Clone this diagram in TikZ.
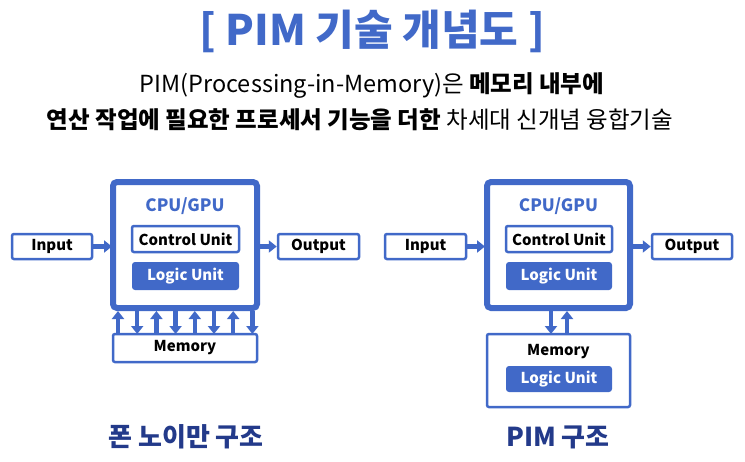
\documentclass[tikz,border=0pt]{standalone}
\usepackage{fontspec}
\setmainfont{Noto Sans CJK KR}
\usetikzlibrary{arrows.meta}
\definecolor{bl}{HTML}{4169C8}
\definecolor{nv}{HTML}{233A8A}
\begin{document}
\begin{tikzpicture}[x=1pt,y=-1pt,
 cpu/.style={draw=bl,line width=6pt,rounded corners=4pt,fill=white},
 box/.style={draw=bl,line width=2.5pt,rounded corners=2pt,fill=white,font=\fontsize{15}{17}\selectfont\bfseries},
 lu/.style={fill=bl,rounded corners=3pt,text=white,font=\fontsize{15}{17}\selectfont\bfseries},
 ar/.style={draw=bl,line width=4.5pt,-{Triangle[length=8pt,width=12pt]}},
 lbl/.style={text=bl,font=\fontsize{17}{19}\selectfont\bfseries}]
\useasboundingbox (0,0) rectangle (745,461);
\node[text=bl,font=\fontsize{42}{46}\selectfont\bfseries] (t) at (372,31) {[ PIM 기술 개념도 ]};
\node[font=\fontsize{23.5}{26}\selectfont] (s1) at (372,86) {PIM(Processing-in-Memory)은 \textbf{메모리 내부에}};
\node[font=\fontsize{23.5}{26}\selectfont] (s2) at (360,120) {\textbf{연산 작업에 필요한 프로세서 기능을 더한} 차세대 신개념 융합기술};
% left
\draw[cpu] (113,182) rectangle (257,308);
\node[lbl] (c1) at (185,206) {CPU/GPU};
\node[box,minimum width=107pt,minimum height=26pt] (cu1) at (185.5,239) {Control Unit};
\node[lu,minimum width=107pt,minimum height=28pt] (lu1) at (185.5,276) {Logic Unit};
\node[box,minimum width=80pt,minimum height=25pt] (in1) at (52,246.5) {Input};
\node[box,minimum width=81pt,minimum height=25pt] (out1) at (318.5,246.5) {Output};
\node[box,minimum width=144pt,minimum height=28pt] (m1) at (185,348) {Memory};
\draw[ar] (in1.east) -- (112,246.5);
\draw[ar] (258,246.5) -- (out1.west);
\foreach \i in {0,...,7}{
 \pgfmathsetmacro\xx{118+\i*19.2}
 \ifodd\i
  \draw[ar] (\xx,311) -- (\xx,334);
 \else
  \draw[ar] (\xx,334) -- (\xx,311);
 \fi}
% right
\draw[cpu] (487,182) rectangle (630,308);
\node[lbl] (c2) at (558.5,206) {CPU/GPU};
\node[box,minimum width=106pt,minimum height=26pt] (cu2) at (559,239) {Control Unit};
\node[lu,minimum width=106pt,minimum height=28pt] (lu2) at (559,276) {Logic Unit};
\node[box,minimum width=81pt,minimum height=25pt] (in2) at (425.5,246.5) {Input};
\node[box,minimum width=80pt,minimum height=25pt] (out2) at (692,246.5) {Output};
\draw[draw=bl,line width=2.5pt,rounded corners=2pt] (487,334) rectangle (630,407);
\node[font=\fontsize{15}{17}\selectfont\bfseries] (m2) at (558.5,352) {Memory};
\node[lu,minimum width=106pt,minimum height=26pt] (lu3) at (559,379) {Logic Unit};
\draw[ar] (in2.east) -- (485,246.5);
\draw[ar] (632,246.5) -- (out2.west);
\draw[ar] (551,311) -- (551,334);
\draw[ar] (567,334) -- (567,311);
\node[text=nv,font=\fontsize{26}{29}\selectfont\bfseries] (b1) at (186,437) {폰 노이만 구조};
\node[text=nv,font=\fontsize{26}{29}\selectfont\bfseries] (b2) at (558,437) {PIM 구조};
\end{tikzpicture}
\end{document}
